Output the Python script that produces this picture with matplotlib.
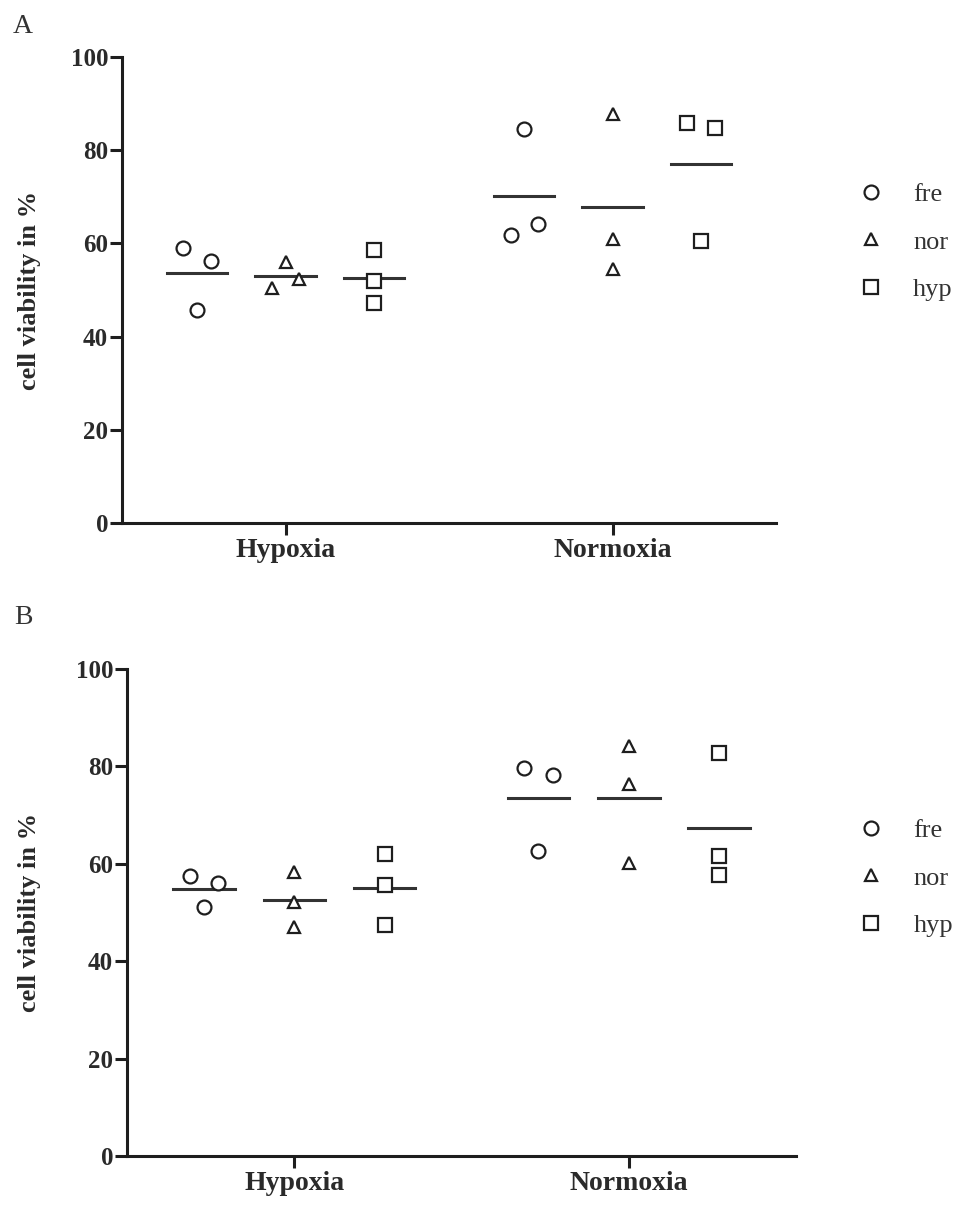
import matplotlib
matplotlib.use('Agg')
import matplotlib.pyplot as plt
from matplotlib.lines import Line2D
import numpy as np

plt.rcParams['font.family'] = ['Liberation Serif', 'DejaVu Serif']

conditions = ['Hypoxia', 'Normoxia']
groups = ['fre', 'nor', 'hyp']

# panel A - cell viability in %, three replicates per group
a_fre = {'Hypoxia': [59.1, 56.2, 45.7], 'Normoxia': [84.5, 64.1, 61.8]}
a_nor = {'Hypoxia': [56.1, 52.3, 50.4], 'Normoxia': [87.7, 60.9, 54.5]}
a_hyp = {'Hypoxia': [58.6, 51.9, 47.3], 'Normoxia': [85.8, 84.7, 60.4]}

# panel B
b_fre = {'Hypoxia': [57.4, 56.0, 51.1], 'Normoxia': [79.7, 78.2, 62.6]}
b_nor = {'Hypoxia': [58.4, 52.2, 47.1], 'Normoxia': [84.2, 76.3, 60.1]}
b_hyp = {'Hypoxia': [62.0, 55.6, 47.4], 'Normoxia': [82.7, 61.5, 57.8]}

panel_a = {'fre': a_fre, 'nor': a_nor, 'hyp': a_hyp}
panel_b = {'fre': b_fre, 'nor': b_nor, 'hyp': b_hyp}

# prism style jitter for points that would overlap (-1 left, 0 centre, +1 right)
jitter_a = {'fre': {'Hypoxia': [-1, 1, 0], 'Normoxia': [0, 1, -1]},
            'nor': {'Hypoxia': [0, 1, -1], 'Normoxia': [0, 0, 0]},
            'hyp': {'Hypoxia': [0, 0, 0], 'Normoxia': [-1, 1, 0]}}
jitter_b = {'fre': {'Hypoxia': [-1, 1, 0], 'Normoxia': [-1, 1, 0]},
            'nor': {'Hypoxia': [0, 0, 0], 'Normoxia': [0, 0, 0]},
            'hyp': {'Hypoxia': [0, 0, 0], 'Normoxia': [0, 0, 0]}}

markers = {'fre': 'o', 'nor': '^', 'hyp': 's'}
msizes = {'fre': 10, 'nor': 9, 'hyp': 10}
offsets = {'fre': -0.27, 'nor': 0.0, 'hyp': 0.27}
dark = '#1e1e1e'
textc = '#2a2a2a'


def draw_panel(ax, data, jitter, letter, leg_x, leg_y):
    for g in groups:
        for ci, c in enumerate(conditions):
            vals = np.array(data[g][c])
            xs = ci + offsets[g] + np.array(jitter[g][c]) * 0.042
            ax.plot(xs, vals, linestyle='none', marker=markers[g], ms=msizes[g],
                    mfc='white', mec=dark, mew=1.6, zorder=3)
            m = vals.mean()
            xc = ci + offsets[g]
            ax.plot([xc - 0.092, xc + 0.092], [m, m], color='#333333', lw=2.2, zorder=2)

    ax.set_xlim(-0.5, 1.5)
    ax.set_ylim(0, 100)
    ax.set_xticks([0, 1])
    ax.set_xticklabels(conditions, fontsize=20, fontweight='bold', color=textc)
    ax.set_yticks([0, 20, 40, 60, 80, 100])
    ax.set_yticklabels(['0', '20', '40', '60', '80', '100'], fontsize=18,
                       fontweight='bold', color=textc)
    ax.spines['top'].set_visible(False)
    ax.spines['right'].set_visible(False)
    for s in ['left', 'bottom']:
        ax.spines[s].set_linewidth(2.2)
        ax.spines[s].set_color(dark)
    ax.tick_params(axis='both', width=2.2, length=8.5, color=dark)
    ax.tick_params(axis='y', pad=1.5)
    ax.tick_params(axis='x', pad=2)
    ax.set_ylabel('cell viability in %', fontsize=19, fontweight='bold', color=textc)
    ax.yaxis.set_label_coords(leg_y[0], 0.5)

    handles = [Line2D([], [], linestyle='none', marker=markers[g], ms=msizes[g],
                      mfc='white', mec=dark, mew=1.6) for g in groups]
    leg = ax.legend(handles, groups, loc='center left', bbox_to_anchor=(leg_x, leg_y[1]),
                    frameon=False, fontsize=19, handlelength=1.0, handletextpad=1.1,
                    labelspacing=0.9, borderpad=0, borderaxespad=0)
    for t in leg.get_texts():
        t.set_color('#333333')
    ax.text(letter[1], letter[2], letter[0], transform=ax.figure.transFigure,
            fontsize=20, color='#333333', ha='left', va='top')


fig = plt.figure(figsize=(9.69, 12.17), dpi=100)
ax_a = fig.add_axes([0.1259, 0.5703, 0.675, 0.3829])
ax_b = fig.add_axes([0.1311, 0.0501, 0.6904, 0.4002])

draw_panel(ax_a, panel_a, jitter_a, ('A', 0.013, 0.9885), 1.125, (-0.124, 0.603))
draw_panel(ax_b, panel_b, jitter_b, ('B', 0.015, 0.503), 1.093, (-0.129, 0.571))

fig.savefig('out.png', dpi=100)
